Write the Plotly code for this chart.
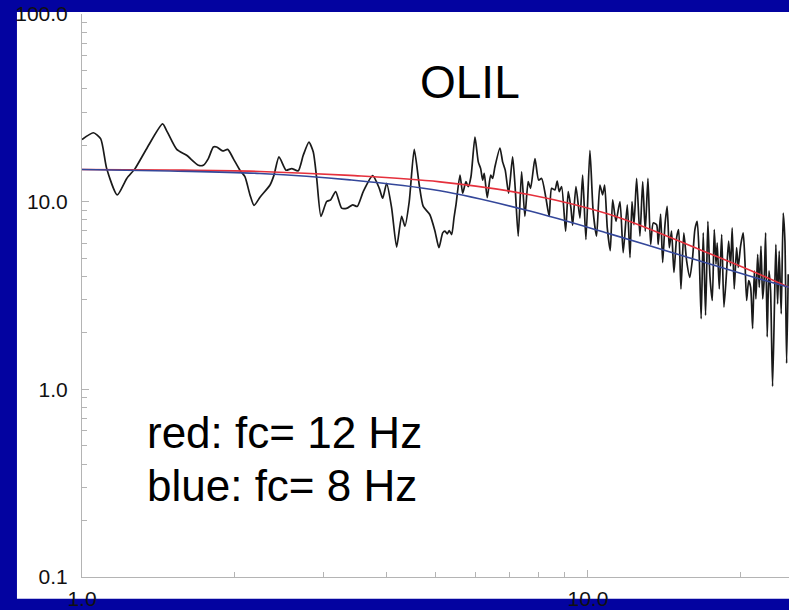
import plotly.graph_objects as go

# Observed amplitude spectrum, station OLIL (frequency in Hz)
freq_obs = [
    1.000, 1.053, 1.089, 1.119, 1.174, 1.226, 1.273, 1.342, 1.443, 1.474,
    1.539, 1.610, 1.698, 1.737, 1.777, 1.818, 1.846, 1.897, 1.941, 1.991,
    2.052, 2.099, 2.148, 2.188, 2.248, 2.353, 2.396, 2.451, 2.530, 2.597,
    2.676, 2.737, 2.809, 2.865, 2.910, 2.967, 3.045, 3.101, 3.172, 3.260,
    3.344, 3.428, 3.499, 3.597, 3.754, 3.869, 3.929, 4.001, 4.093, 4.187,
    4.283, 4.348, 4.434, 4.536, 4.641, 4.726, 4.871, 4.985, 5.076, 5.163,
    5.217, 5.272, 5.320, 5.379, 5.435, 5.485, 5.586, 5.655, 5.740, 5.800,
    5.872, 5.980, 6.071, 6.137, 6.193, 6.238, 6.324, 6.423, 6.481, 6.549,
    6.700, 6.782, 6.863, 6.970, 7.098, 7.182, 7.281, 7.394, 7.505, 7.619,
    7.702, 7.857, 7.990, 8.100, 8.260, 8.384, 8.476, 8.604, 8.695, 8.775,
    8.871, 9.034, 9.142, 9.256, 9.328, 9.469, 9.643, 9.762, 9.909, 10.09,
    10.24, 10.40, 10.56, 10.69, 10.79, 10.92, 11.07, 11.19, 11.36, 11.57,
    11.74, 11.96, 12.11, 12.22, 12.33, 12.48, 12.67, 12.83, 12.98, 13.14,
    13.30, 13.46, 13.67, 13.77, 13.92, 14.05, 14.20, 14.34, 14.48, 14.63,
    14.79, 14.97, 15.11, 15.27, 15.47, 15.67, 15.90, 16.10, 16.27, 16.44,
    16.59, 16.74, 16.90, 17.08, 17.26, 17.42, 17.61, 17.77, 17.91, 18.01,
    18.18, 18.38, 18.57, 18.80, 18.97, 19.14, 19.28, 19.46, 19.67, 19.82,
    20.03, 20.27, 20.43, 20.59, 20.78, 20.97, 21.16, 21.32, 21.48, 21.65,
    21.81, 21.98, 22.15, 22.31, 22.45, 22.61, 22.79, 22.96, 23.17, 23.38,
    23.52, 23.71, 23.88, 24.10, 24.32, 24.51, 24.70, 24.88,
]
amp_obs = [
    21.45, 23.3, 21.6, 15.0, 10.86, 13.3, 15.0, 19.15, 25.96, 23.55,
    18.99, 17.66, 15.64, 15.64, 16.97, 19.56, 19.56, 18.63, 18.99, 16.97,
    14.72, 13.58, 10.86, 9.55, 10.56, 12.27, 13.85, 17.32, 14.72, 15.0,
    14.61, 17.66, 20.78, 18.40, 13.3, 8.355, 10.02, 10.22, 11.32, 9.24,
    9.24, 9.62, 9.43, 11.32, 13.75, 11.78, 10.43, 12.52, 9.24, 5.731,
    8.355, 7.397, 10.02, 18.99, 12.27, 9.43, 8.518, 6.961, 5.683, 6.820,
    6.961, 6.737, 7.013, 6.680, 8.184, 9.62, 13.85, 11.09, 12.78, 12.03,
    13.58, 22.08, 16.30, 15.0, 13.03, 14.14, 10.52, 13.85, 13.3, 15.34,
    19.32, 16.30, 14.72, 11.09, 17.32, 11.78, 6.552, 14.43, 8.355, 12.78,
    11.78, 16.97, 13.03, 13.3, 10.43, 8.355, 11.78, 11.54, 12.88, 11.32,
    12.03, 6.961, 11.32, 9.24, 7.488, 12.03, 8.184, 13.85, 6.287, 18.77,
    8.877, 6.552, 12.27, 10.86, 12.27, 7.246, 5.480, 10.22, 7.862, 10.02,
    5.348, 9.62, 5.033, 10.02, 7.543, 13.3, 6.552, 12.78, 6.961, 13.3,
    5.916, 7.701, 7.543, 5.916, 8.590, 4.737, 7.543, 9.43, 5.683, 6.961,
    4.195, 6.418, 7.098, 3.424, 6.820, 4.835, 3.948, 5.033, 7.098, 7.862,
    5.239, 2.378, 6.820, 2.479, 7.862, 4.030, 2.974, 7.098, 4.640, 6.039,
    3.424, 6.680, 2.742, 4.281, 6.166, 4.550, 7.246, 3.424, 5.683, 4.458,
    5.801, 6.820, 4.835, 2.974, 3.792, 3.495, 2.106, 4.281, 3.032, 5.239,
    3.495, 5.801, 3.032, 3.948, 6.820, 1.904, 4.281, 3.358, 1.037, 2.974,
    5.916, 2.853, 5.460, 2.527, 8.696, 6.166, 1.377, 4.109,
]

# Source-model spectra for two corner frequencies
freq_model = [1.000, 1.492, 2.248, 3.385, 5.099, 7.678, 11.05, 16.65, 21.19, 24.96]
amp_red = [14.84, 14.75, 14.49, 13.80, 12.75, 10.89, 8.54, 5.547, 4.246, 3.495]
amp_blue = [14.84, 14.58, 14.14, 13.07, 11.43, 8.91, 6.737, 4.824, 3.972, 3.495]

x_tickvals = [1, 10]
x_ticktext = ["1.0", "10.0"]
x_minor = [2, 3, 4, 5, 6, 7, 8, 9, 20]
y_tickvals = [0.1, 1, 10, 100]
y_ticktext = ["0.1", "1.0", "10.0", "100.0"]
y_minor = [0.2, 0.3, 0.4, 0.5, 0.6, 0.7, 0.8, 0.9,
           2, 3, 4, 5, 6, 7, 8, 9,
           20, 30, 40, 50, 60, 70, 80, 90]

title_text = "OLIL"
legend_lines = ["red: fc= 12 Hz", "blue: fc= 8 Hz"]

FONT = "Liberation Sans, Arial, Helvetica, sans-serif"
BG_BLUE = "#0303a0"
AXIS_GREY = "#b4b4b4"

fig = go.Figure()
fig.add_trace(go.Scatter(
    x=freq_obs, y=amp_obs, mode="lines",
    line=dict(color="#1a1a1a", width=1.7, shape="spline", smoothing=0.6),
    showlegend=False,
))
fig.add_trace(go.Scatter(
    x=freq_model, y=amp_red, mode="lines",
    line=dict(color="#e5303c", width=1.6, shape="spline"),
    showlegend=False,
))
fig.add_trace(go.Scatter(
    x=freq_model, y=amp_blue, mode="lines",
    line=dict(color="#34479a", width=1.6, shape="spline"),
    showlegend=False,
))

fig.update_layout(
    width=789, height=610,
    margin=dict(l=82, r=0, t=14, b=28, pad=0),
    paper_bgcolor=BG_BLUE,
    plot_bgcolor="white",
    font=dict(family=FONT, color="#111111", size=21),
    shapes=[dict(
        type="rect", xref="paper", yref="paper",
        x0=-0.092, x1=1.02, y0=-0.0387, y1=1.0035,
        fillcolor="white", line=dict(width=0), layer="below",
    )],
    annotations=[
        dict(text=title_text, xref="paper", yref="paper", x=0.549, y=0.8785,
             xanchor="center", yanchor="middle", showarrow=False,
             font=dict(family=FONT, size=46, color="black")),
        dict(text=legend_lines[0], xref="paper", yref="paper", x=0.089, y=0.257,
             xanchor="left", yanchor="middle", showarrow=False,
             font=dict(family=FONT, size=44, color="black")),
        dict(text=legend_lines[1], xref="paper", yref="paper", x=0.089, y=0.162,
             xanchor="left", yanchor="middle", showarrow=False,
             font=dict(family=FONT, size=44, color="black")),
    ],
)

fig.update_xaxes(
    type="log", range=[0, 1.3974],
    tickmode="array", tickvals=x_tickvals, ticktext=x_ticktext,
    ticks="inside", ticklen=7, tickcolor=AXIS_GREY, tickwidth=1,
    minor=dict(tickmode="array", tickvals=x_minor, ticks="inside",
               ticklen=5, tickcolor=AXIS_GREY, showgrid=False),
    showline=True, linecolor=AXIS_GREY, linewidth=1,
    showgrid=False, zeroline=False, ticklabelstandoff=3,
    tickfont=dict(family=FONT, size=21, color="#111111"),
)
fig.update_yaxes(
    type="log", range=[-1, 2],
    tickmode="array", tickvals=y_tickvals, ticktext=y_ticktext,
    ticks="inside", ticklen=7, tickcolor=AXIS_GREY, tickwidth=1,
    minor=dict(tickmode="array", tickvals=y_minor, ticks="inside",
               ticklen=5, tickcolor=AXIS_GREY, showgrid=False),
    showline=True, linecolor=AXIS_GREY, linewidth=1,
    showgrid=False, zeroline=False, ticklabelstandoff=9,
    tickfont=dict(family=FONT, size=21, color="#111111"),
)

fig.write_html("out.html")
